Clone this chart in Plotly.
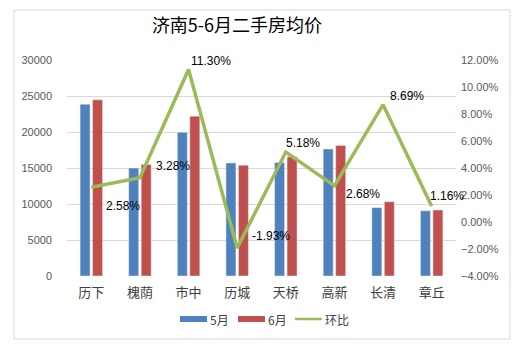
import plotly.graph_objects as go

categories = ["历下", "槐荫", "市中", "历城", "天桥", "高新", "长清", "章丘"]
may = [23850, 15000, 19950, 15700, 15750, 17640, 9490, 9060]
june = [24465, 15492, 22204, 15397, 16566, 18113, 10315, 9165]
mom = [0.0258, 0.0328, 0.1130, -0.0193, 0.0518, 0.0268, 0.0869, 0.0116]
mom_labels = ["2.58%", "3.28%", "11.30%", "-1.93%", "5.18%", "2.68%", "8.69%", "1.16%"]
series_names = ["5月", "6月", "环比"]
# label offsets (style) in pixels: (dx, dy up)
label_dx = [32, 33, 22, 34, 17, 29, 24, 15]
label_dy = [-19, 12, 8, 12, 9, -8, 9, 10]

BLUE, RED, GREEN = "#4F81BD", "#C0504D", "#9BBB59"
font_fam = "Liberation Sans, Noto Sans CJK SC, sans-serif"
cjk = "Noto Sans CJK SC, sans-serif"

fig = go.Figure()
fig.add_trace(go.Bar(x=categories, y=may, name=series_names[0], marker_color=BLUE))
fig.add_trace(go.Bar(x=categories, y=june, name=series_names[1], marker_color=RED))
fig.add_trace(go.Scatter(x=categories, y=mom, name=series_names[2], yaxis="y2", mode="lines",
                         line=dict(color=GREEN, width=3.5), cliponaxis=False))

for c, v, t, dx, dy in zip(categories, mom, mom_labels, label_dx, label_dy):
    fig.add_annotation(x=c, y=v, yref="y2", text=t, showarrow=False,
                       xshift=dx, yshift=dy, xanchor="center", yanchor="middle",
                       font=dict(size=12, color="#000000", family=font_fam))

L, R, T, B = 67, 456, 60, 276
W, H = 525, 352
pw, ph = R - L, B - T

def px(x):
    return (x - L) / pw

def py(y):
    return (B - y) / ph

fig.add_shape(type="rect", xref="paper", yref="paper",
              x0=px(14), x1=px(510), y0=py(339), y1=py(10),
              line=dict(color="#D9D9D9", width=1), fillcolor="rgba(0,0,0,0)", layer="below")

# custom legend (Excel-style wide swatches)
leg_y = 319
leg_items = [(180, BLUE, "rect"), (238, RED, "rect"), (295, GREEN, "line")]
for (x0, col, kind), name in zip(leg_items, series_names):
    if kind == "rect":
        fig.add_shape(type="rect", xref="paper", yref="paper",
                      x0=px(x0), x1=px(x0 + 27), y0=py(leg_y + 3), y1=py(leg_y - 3),
                      line=dict(width=0), fillcolor=col)
    else:
        fig.add_shape(type="line", xref="paper", yref="paper",
                      x0=px(x0), x1=px(x0 + 27), y0=py(leg_y), y1=py(leg_y),
                      line=dict(color=col, width=2.5))
    fig.add_annotation(xref="paper", yref="paper", x=px(x0 + 28), y=py(leg_y),
                       text=name, showarrow=False, xanchor="left", yanchor="middle",
                       font=dict(family=cjk, size=12, color="#404040"))

fig.update_layout(
    width=W, height=H,
    margin=dict(l=L, r=W - R, t=T, b=H - B, autoexpand=False),
    paper_bgcolor="white", plot_bgcolor="white",
    title=dict(text="济南5-6月二手房均价", x=px(237), xref="paper", xanchor="center",
               y=1 - 26 / H, yanchor="middle",
               font=dict(family=cjk, size=18, color="#000000")),
    barmode="group", bargap=0.487, bargroupgap=0.2,
    xaxis=dict(showgrid=False, showline=False, ticks="", range=[-0.5, 7.5],
               ticklabelstandoff=7,
               tickfont=dict(family=cjk, size=13, color="#404040")),
    yaxis=dict(range=[0, 30000], dtick=5000, tickformat="d", showgrid=True,
               gridcolor="#D9D9D9", gridwidth=1, zeroline=False, showline=False,
               ticks="", ticklabelstandoff=14,
               tickfont=dict(family=font_fam, size=11, color="#595959")),
    yaxis2=dict(range=[-0.04, 0.12], dtick=0.02, tickformat=".2%", overlaying="y",
                side="right", showgrid=False, zeroline=False, showline=False, ticks="",
                ticklabelstandoff=4,
                tickfont=dict(family=font_fam, size=11, color="#595959")),
    showlegend=False,
)

fig.write_html("out.html")
